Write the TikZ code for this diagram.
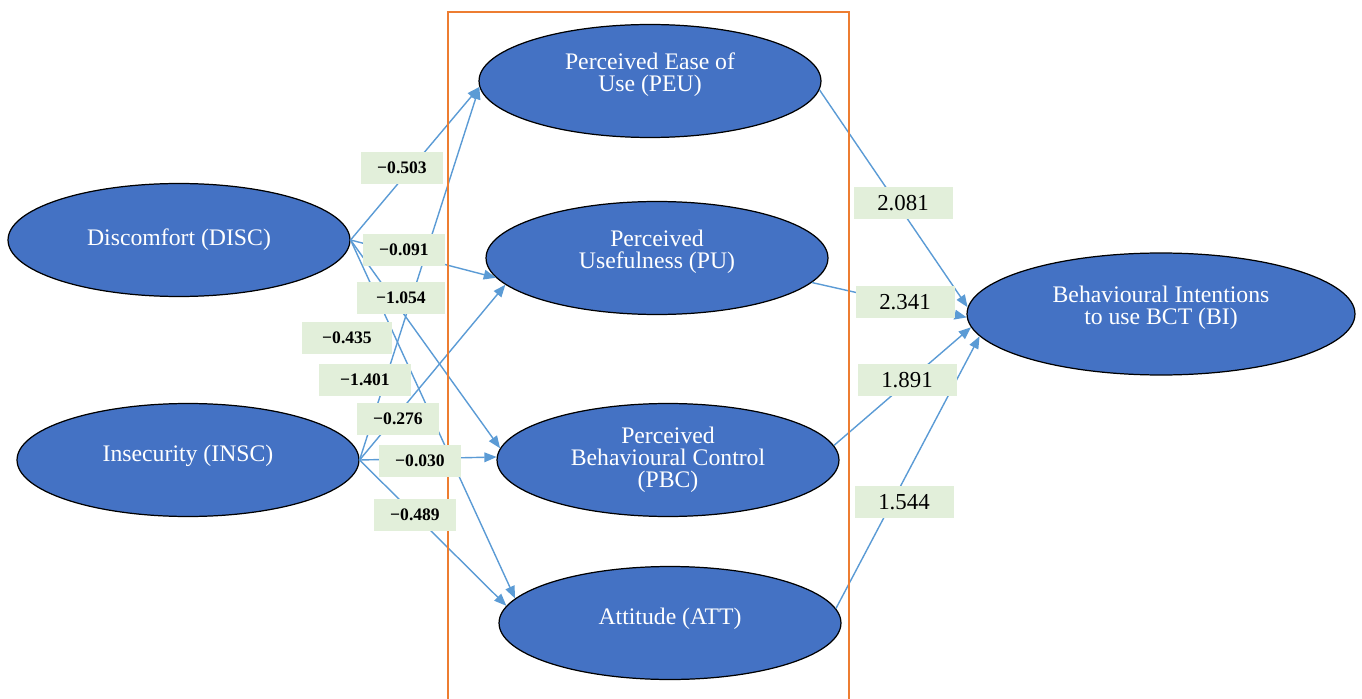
\documentclass[tikz,border=0pt]{standalone}
\usepackage{fontspec}
\setmainfont{Liberation Serif}
\usepackage{xcolor}
\usepackage{tikz}
\usetikzlibrary{shapes.geometric,arrows.meta}
\definecolor{azul}{HTML}{4472C4}
\definecolor{celeste}{HTML}{5B9BD5}
\definecolor{verde}{HTML}{E2EFDA}
\definecolor{naranja}{HTML}{ED7D31}
\tikzset{
  elip/.style={ellipse,fill=azul,draw=black,line width=0.7pt,inner sep=0pt,minimum width=6.84cm,minimum height=2.26cm,text=white,align=center,font=\fontsize{13.5}{12.5}\selectfont},
  arriba/.style={text depth=#1},
  coef/.style={fill=verde,minimum width=1.64cm,minimum height=0.64cm,inner sep=0pt,font=\fontsize{10}{12}\selectfont\bfseries},
  coefd/.style={fill=verde,minimum width=1.98cm,minimum height=0.64cm,inner sep=0pt,font=\fontsize{13}{14}\selectfont},
  flecha/.style={-{Triangle[length=7pt,width=5.5pt]},celeste,line width=0.8pt},
  marco/.style={naranja,line width=1.1pt}
}
\begin{document}
\begin{tikzpicture}[x=0.02cm,y=-0.02cm]
\useasboundingbox (0,0) rectangle (1362,699);
\node[elip] (disc) at (179,240){Discomfort (DISC)}; \node[elip,arriba=7.5pt] (insc) at (188,460){Insecurity (INSC)};
\node[elip,arriba=10pt] (peu) at (650,81){Perceived Ease of\\Use (PEU)}; \node[elip,arriba=10pt] (pu) at (657,258){Perceived\\Usefulness (PU)};
\node[elip] (pbc) at (668,460){Perceived\\Behavioural Control\\(PBC)}; \node[elip,arriba=8pt] (att) at (670,623){Attitude (ATT)};
\node[elip,arriba=10pt,minimum width=7.76cm,minimum height=2.44cm] (bi) at (1161,314){Behavioural Intentions\\to use BCT (BI)};
\draw[flecha] (disc.east)--(peu.182); \draw[flecha] (disc.east)--(pu.187); \draw[flecha] (disc.east)--(pbc.176); \draw[flecha] (disc.east)--(att.171);
\draw[flecha] (insc.east)--(peu.182); \draw[flecha] (insc.east)--(pu.190); \draw[flecha] (insc.east)--(pbc.179); \draw[flecha] (insc.east)--(att.174);
\draw[flecha] (peu.-3)--(bi.178); \draw[flecha] (pu.-9)--(bi.181); \draw[flecha] (pbc.5)--(bi.184); \draw[flecha] (att.5)--(bi.187);
\draw[marco] (448,699) |- (849,12) -- (849,699);
\node[coef] (c1) at (402,168){−0.503}; \node[coef] (c2) at (404,250){−0.091}; \node[coef,minimum width=1.76cm] (c3) at (401,298){−1.054};
\node[coef,minimum width=1.82cm] (c4) at (347,338){−0.435}; \node[coef,minimum width=1.84cm] (c5) at (365,380){−1.401};
\node[coef] (c6) at (398,419){−0.276}; \node[coef] (c7) at (420,461){−0.030}; \node[coef] (c8) at (415,515){−0.489};
\node[coefd] (d1) at (903,203){2.081}; \node[coefd] (d2) at (905,302){2.341}; \node[coefd] (d3) at (907,380){1.891}; \node[coefd] (d4) at (904,502){1.544};
\end{tikzpicture}
\end{document}
